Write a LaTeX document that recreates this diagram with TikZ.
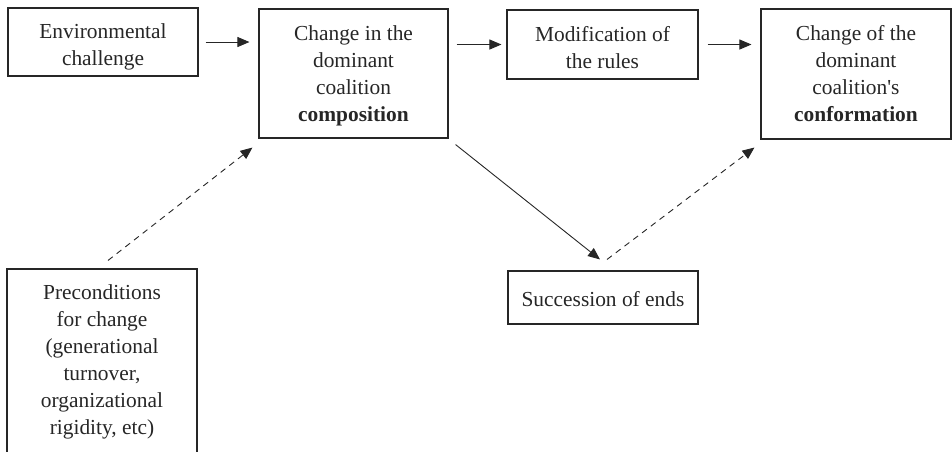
\documentclass[tikz,border=0pt]{standalone}
\usepackage{fontspec}
\setmainfont{Liberation Serif}
\usetikzlibrary{arrows.meta}
\newcommand\lowr[1]{\rule{0pt}{#1pt}}
\begin{document}
\begin{tikzpicture}[x=1pt,y=-1pt,
  box/.style={draw=black!85, line width=1.1pt, rectangle, inner sep=0pt, align=center,
    text=black!85, font=\fontsize{21.4pt}{27pt}\selectfont},
  arr/.style={draw=black!85, line width=0.9pt, -{Triangle[length=12pt,width=10pt]}},
  darr/.style={arr, dash pattern=on 6pt off 5pt}]
\useasboundingbox (0,0) rectangle (952,451);
\clip (0,0) rectangle (952,451);
\node[box, minimum width=190pt, minimum height=68pt] (b1) at (103,42) {\lowr{24.6}Environmental\\challenge};
\node[box, minimum width=189pt, minimum height=129pt] (b2) at (353.5,73.5) {\lowr{18.6}Change in the\\dominant\\coalition\\\textbf{composition}};
\node[box, minimum width=191pt, minimum height=69pt] (b3) at (602.5,44.5) {\lowr{20.6}Modification of\\the rules};
\node[box, minimum width=190pt, minimum height=130pt] (b4) at (856,74) {Change of the\\dominant\\coalition\textquotesingle s\\\textbf{conformation}};
\node[box, minimum width=190pt, minimum height=185pt] (b5) at (102,361.5) {Preconditions\\for change\\(generational\\turnover,\\organizational\\rigidity, etc)};
\node[box, minimum width=190pt, minimum height=53pt] (b6) at (603,297.5) {\lowr{18.5}Succession of ends};
\draw[arr, shorten <=7pt, shorten >=9pt] (b1.east) -- (b1.east -| b2.west);
\draw[arr, shorten <=8pt, shorten >=5pt] (b3.west -| b2.east) -- (b3.west);
\draw[arr, shorten <=9pt, shorten >=9pt] (b3.east) -- (b3.east -| b4.west);
\draw[darr] ([shift={(6,-8)}]b5.north) -- ([shift={(-6,9)}]b2.south west);
\draw[arr] ([shift={(7,6)}]b2.south east) -- ([shift={(-3,-11)}]b6.north);
\draw[darr] ([shift={(4,-11)}]b6.north) -- ([shift={(-6,8)}]b4.south west);
\end{tikzpicture}
\end{document}
